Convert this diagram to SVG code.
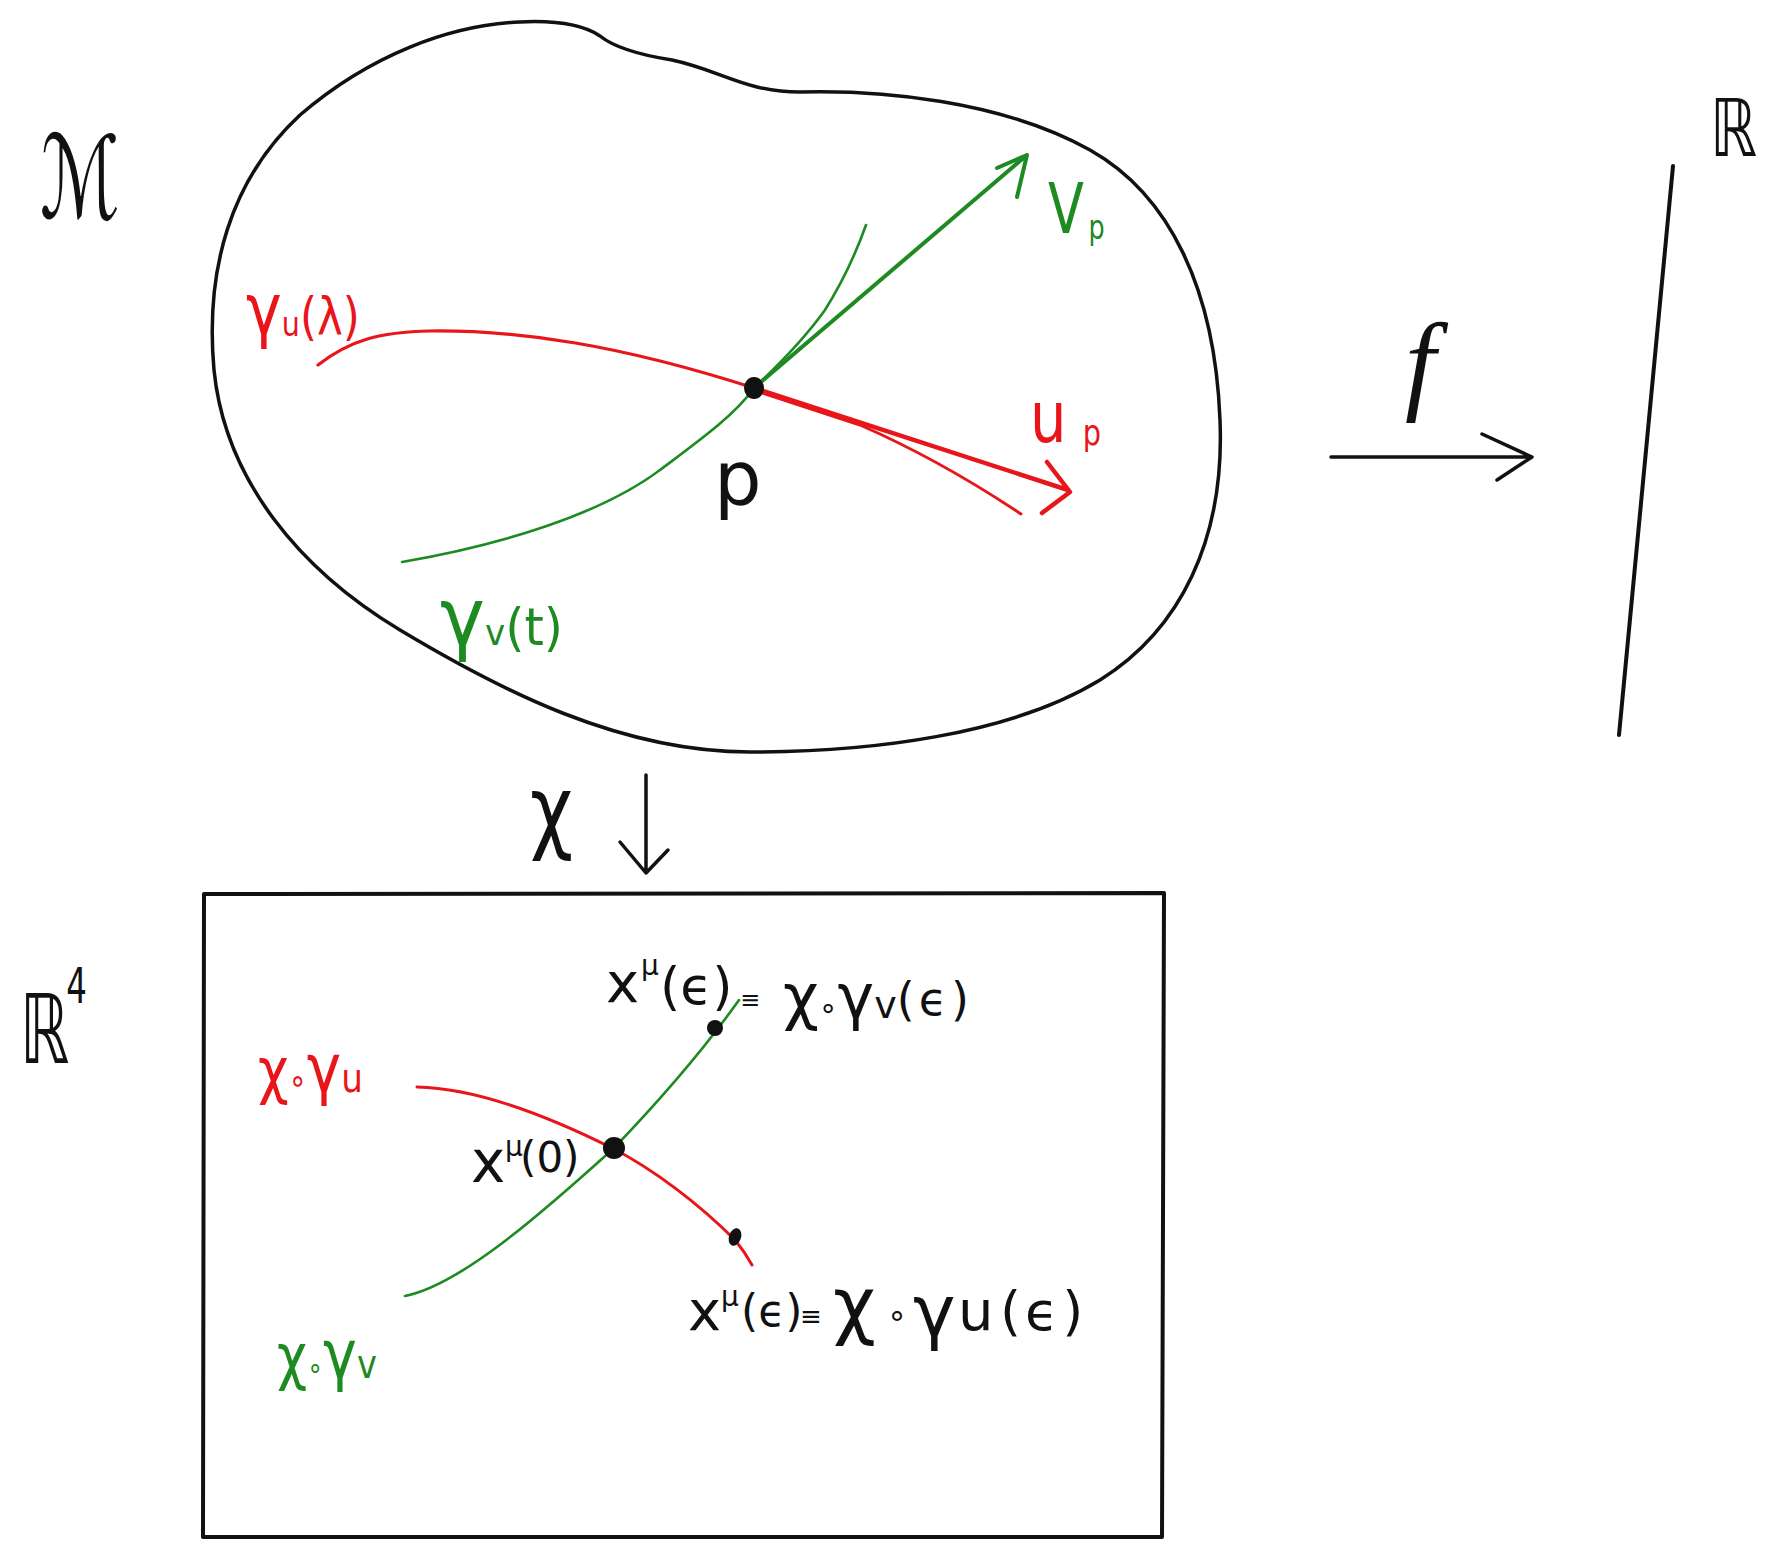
<svg xmlns="http://www.w3.org/2000/svg" width="1791" height="1548" viewBox="0 0 1791 1548">
<style>
.ink{fill:none;stroke:#111;stroke-linecap:round;stroke-linejoin:round}
.red{fill:none;stroke:#e8161b;stroke-linecap:round;stroke-linejoin:round}
.grn{fill:none;stroke:#1e8a22;stroke-linecap:round;stroke-linejoin:round}
text{font-family:"DejaVu Sans","Liberation Sans",sans-serif}
.tk{fill:#111}
.tr{fill:#e8161b}
.tg{fill:#1e8a22}
</style>
<rect width="1791" height="1548" fill="#ffffff"/>

<g id="node-manifold">
  <path class="ink" stroke-width="3.5" d="M 600,36 C 615,48 640,55 672,60 C 720,70 745,92 800,92 C 880,90 1000,100 1090,150 C 1170,195 1215,290 1220,420 C 1225,540 1180,630 1100,680 C 1010,735 870,752 750,752 C 620,752 500,690 400,630 C 300,570 225,480 214,370 C 205,270 230,180 300,115 C 370,55 450,25 520,22 C 560,20 585,26 600,36 Z"/>
  <text class="tk" x="40" y="218" font-size="115" textLength="80" lengthAdjust="spacingAndGlyphs">ℳ</text>
  <path class="red" stroke-width="3.2" d="M 318,365 C 350,340 380,332 430,331 C 520,330 620,345 754,388"/>
  <path class="grn" stroke-width="2.6" d="M 402,562 C 500,545 600,515 660,470 C 700,440 735,415 754,388 Q 800,345 825,310 Q 850,270 866,225"/>
  <path class="grn" stroke-width="4" d="M 754,388 L 1027,155 M 997,168 L 1027,155 L 1017,197"/>
  <path class="red" stroke-width="4.5" d="M 754,388 L 1068,490 M 1047,462 L 1070,492 L 1042,513"/>
  <path class="red" stroke-width="3" d="M 756,391 L 860,425 Q 940,460 1021,514"/>
  <ellipse cx="754" cy="388" rx="10" ry="11" fill="#111"/>
  <text class="tr" transform="translate(246,334) scale(0.84,1)"><tspan font-size="72">γ</tspan><tspan font-size="34" dy="2">u</tspan><tspan font-size="52" dy="-2">(λ)</tspan></text>
  <text class="tg" transform="translate(1048,233) scale(0.75,1)"><tspan font-size="70">V</tspan><tspan x="54" dy="6" font-size="34">p</tspan></text>
  <text class="tr" transform="translate(1030,442) scale(0.8,1)"><tspan font-size="72">u</tspan><tspan x="66" dy="3" font-size="36">p</tspan></text>
  <text class="tk" x="714" y="504" font-size="75">p</text>
  <text class="tg" transform="translate(440,645) scale(0.95,1)"><tspan font-size="80">γ</tspan><tspan font-size="36">v</tspan><tspan font-size="52">(t)</tspan></text>
</g>

<g id="node-R">
  <path class="ink" stroke-width="4" d="M 1673,166 L 1619,735"/>
  <text class="tk" x="1710" y="156" font-size="80" textLength="47" lengthAdjust="spacingAndGlyphs">ℝ</text>
</g>

<g id="node-R4">
  <path class="ink" stroke-width="4" d="M 204,894 L 1164,893 L 1162,1537 L 203,1537 Z"/>
  <text class="tk" transform="translate(20,1063) scale(0.65,1)"><tspan font-size="96">ℝ</tspan><tspan font-size="50" x="71" y="-60">4</tspan></text>
  <path class="red" stroke-width="3" d="M 417,1087 C 470,1088 540,1112 612,1148 C 655,1170 700,1205 735,1240 Q 745,1252 752,1265"/>
  <path class="grn" stroke-width="2.6" d="M 405,1296 C 460,1285 540,1215 614,1148 C 660,1100 700,1055 739,1000"/>
  <circle cx="614" cy="1148" r="11" fill="#111"/>
  <circle cx="715" cy="1028" r="8" fill="#111"/>
  <ellipse cx="735" cy="1237" rx="6" ry="9" transform="rotate(20 735 1237)" fill="#111"/>
  <text class="tr" transform="translate(258,1092) scale(0.856,1)"><tspan font-size="62">χ</tspan><tspan font-size="34">∘</tspan><tspan font-size="68">γ</tspan><tspan font-size="40">u</tspan></text>
  <text class="tg" transform="translate(277,1378) scale(0.843,1)"><tspan font-size="62">χ</tspan><tspan font-size="30">∘</tspan><tspan font-size="68">γ</tspan><tspan font-size="40">v</tspan></text>
  <text class="tk"><tspan x="606" y="1002" font-size="56">x</tspan><tspan x="641" y="975" font-size="28">μ</tspan><tspan x="660" y="1004" font-size="52">(ϵ)</tspan><tspan x="740" y="1008" font-size="24">≡</tspan><tspan x="783" y="1018" font-size="62">χ</tspan><tspan font-size="30">∘</tspan><tspan font-size="62">γ</tspan><tspan font-size="38">v</tspan><tspan font-size="46" dy="-3" letter-spacing="4">(ϵ)</tspan></text>
  <text class="tk"><tspan x="471" y="1182" font-size="58">x</tspan><tspan x="505" y="1156" font-size="28">μ</tspan><tspan x="520" y="1172" font-size="42">(0)</tspan></text>
  <text class="tk"><tspan x="688" y="1330" font-size="56">x</tspan><tspan x="721" y="1306" font-size="28">μ</tspan><tspan x="741" y="1326" font-size="44">(ϵ)</tspan><tspan x="800" y="1325" font-size="26">≡</tspan><tspan x="833" y="1330" font-size="74">χ</tspan><tspan x="887" y="1326" font-size="32">∘</tspan><tspan x="913" y="1336" font-size="72">γ</tspan><tspan x="958" y="1330" font-size="56">u</tspan><tspan x="1000" y="1330" font-size="54" letter-spacing="4">(ϵ)</tspan></text>
</g>

<g id="connectors">
  <g id="edge-f">
    <path class="ink" stroke-width="3.5" d="M 1331,457 L 1532,457 M 1482,434 L 1532,457 L 1497,480"/>
    <text class="tk" x="1405" y="400" font-size="110" style="font-family:'Liberation Serif',serif;font-style:italic">f</text>
  </g>
  <g id="edge-chi">
    <path class="ink" stroke-width="3.5" d="M 646,775 L 646,873 M 620,842 L 646,873 L 668,850"/>
    <text class="tk" x="530" y="842" font-size="92" textLength="43" lengthAdjust="spacingAndGlyphs">χ</text>
  </g>
</g>
</svg>
